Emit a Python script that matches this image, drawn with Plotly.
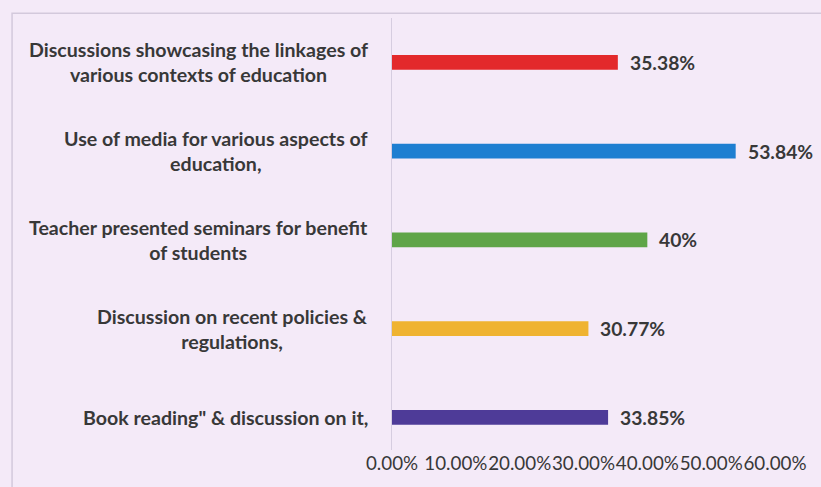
import plotly.graph_objects as go

# Activities (top to bottom); "<br>" marks where each label wraps
categories = [
    "Discussions showcasing the linkages of<br>various contexts of education",
    "Use of media for various aspects of<br>education,",
    "Teacher presented seminars for benefit<br>of students",
    "Discussion on recent policies &<br>regulations,",
    "Book reading\" & discussion on it,",
]
values = [35.38, 53.84, 40, 30.77, 33.85]
value_labels = ["35.38%", "53.84%", "40%", "30.77%", "33.85%"]
bar_colors = ["#e3292b", "#1e7fd1", "#5fa548", "#efb331", "#4e3b98"]
tick_vals = [0, 10, 20, 30, 40, 50, 60]
tick_text = ["0.00%", "10.00%", "20.00%", "30.00%", "40.00%", "50.00%", "60.00%"]

BG = "#f4eaf8"
TEXT = "#383838"
FONT = "Lato"

positions = list(range(len(categories)))

fig = go.Figure()
fig.add_trace(go.Bar(
    x=values,
    y=positions,
    orientation="h",
    width=0.165,
    marker=dict(color=bar_colors, line=dict(width=0)),
    hoverinfo="skip",
))

annotations = []
# category labels: centred lines, block's right edge just left of the axis
for pos, label in zip(positions, categories):
    annotations.append(dict(
        x=-0.057, xref="paper", xanchor="right", align="center",
        y=pos, yref="y", yanchor="middle",
        text=label, showarrow=False,
        font=dict(family=FONT, size=19.6, color=TEXT, weight="bold"),
    ))

# value labels at the end of each bar
for pos, v, t in zip(positions, values, value_labels):
    annotations.append(dict(
        x=v, xref="x", xanchor="left", xshift=10,
        y=pos, yref="y", yanchor="middle",
        text=t, showarrow=False,
        font=dict(family=FONT, size=19.3, color=TEXT, weight="bold"),
    ))

fig.update_layout(
    width=821, height=487,
    margin=dict(l=392, r=46, t=18, b=37),
    paper_bgcolor=BG, plot_bgcolor=BG,
    showlegend=False,
    annotations=annotations,
    shapes=[dict(
        type="rect", xref="paper", yref="paper",
        x0=-0.992, x1=1.2, y0=-0.2, y1=1.011,
        line=dict(color="#d3c9dc", width=1.5), fillcolor="rgba(0,0,0,0)",
        layer="below",
    )],
    xaxis=dict(
        range=[0, 60], tickvals=tick_vals, ticktext=tick_text, tickangle=0,
        showgrid=False, zeroline=False, showline=False, ticks="",
        tickfont=dict(family=FONT, size=18.8, color=TEXT),
        fixedrange=True,
    ),
    yaxis=dict(
        range=[4.368, -0.5], showticklabels=False, showgrid=False,
        zeroline=False, showline=True, linecolor="#d6cde0", linewidth=1,
        ticks="", fixedrange=True,
    ),
)

fig.write_html("out.html")
